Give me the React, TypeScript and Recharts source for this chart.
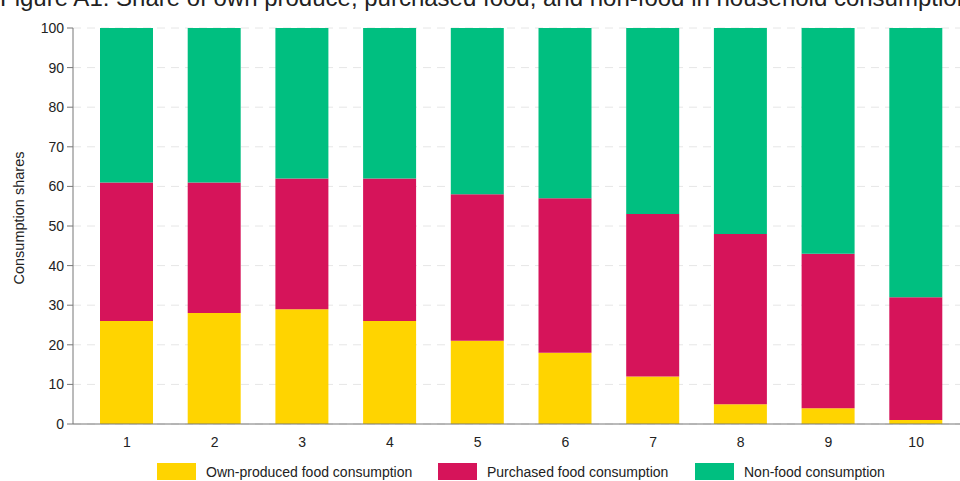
import { Bar, BarChart, CartesianGrid, XAxis, YAxis } from "recharts";

const deciles = ["1", "2", "3", "4", "5", "6", "7", "8", "9", "10"];
const ownProduced = [26, 28, 29, 26, 21, 18, 12, 5, 4, 1];
const purchased = [35, 33, 33, 36, 37, 39, 41, 43, 39, 31];
const nonFood = [39, 39, 38, 38, 42, 43, 47, 52, 57, 68];
const yTicks = [0, 10, 20, 30, 40, 50, 60, 70, 80, 90, 100];

const series = [
  { key: "own", name: "Own-produced food consumption", color: "#FFD400" },
  { key: "purchased", name: "Purchased food consumption", color: "#D6145A" },
  { key: "nonfood", name: "Non-food consumption", color: "#00BF80" },
];

const data = deciles.map((d, i) => ({
  decile: d,
  own: ownProduced[i],
  purchased: purchased[i],
  nonfood: nonFood[i],
}));

const font = "'Liberation Sans', Arial, sans-serif";
const legendX = [157, 438, 695];

export default function App() {
  return (
    <div style={{ position: "absolute", left: 0, top: 0, width: 960, height: 481, overflow: "hidden", background: "#fff", fontFamily: font }}>
      <div style={{ position: "absolute", left: 0, top: -14, fontSize: 24, lineHeight: "24px", color: "#222", whiteSpace: "nowrap" }}>
        Figure A1: Share of own produce, purchased food, and non-food in household consumption
      </div>
      <BarChart width={960} height={481} data={data} margin={{ top: 28, right: 0, left: 0, bottom: 0 }} barSize={53}>
        <CartesianGrid horizontal vertical={false} stroke="#e6e6e6" strokeDasharray="8 6" />
        <XAxis
          dataKey="decile"
          height={57}
          padding={{ left: 10, right: 0 }}
          tickLine={false}
          axisLine={{ stroke: "#777" }}
          tick={{ fill: "#222", fontSize: 14, fontFamily: font }}
          tickMargin={7}
        />
        <YAxis
          width={73}
          domain={[0, 100]}
          ticks={yTicks}
          interval={0}
          tickSize={6}
          tickMargin={3}
          axisLine={{ stroke: "#777" }}
          tickLine={{ stroke: "#777" }}
          tick={{ fill: "#222", fontSize: 14, fontFamily: font }}
          label={{
            content: () => (
              <text x={19} y={218} transform="rotate(-90 19 218)" textAnchor="middle" dominantBaseline="central" fontSize={14.5} fill="#222" fontFamily={font}>
                Consumption shares
              </text>
            ),
          }}
        />
        {series.map((s) => (
          <Bar key={s.key} dataKey={s.key} name={s.name} stackId="a" fill={s.color} isAnimationActive={false} />
        ))}
      </BarChart>
      {series.map((s, i) => (
        <div key={s.key} style={{ position: "absolute", left: legendX[i], top: 463, height: 17, display: "flex", alignItems: "center", fontSize: 14, color: "#222", whiteSpace: "nowrap" }}>
          <span style={{ display: "inline-block", width: 39, height: 17, background: s.color, marginRight: 10 }} />
          {s.name}
        </div>
      ))}
    </div>
  );
}
